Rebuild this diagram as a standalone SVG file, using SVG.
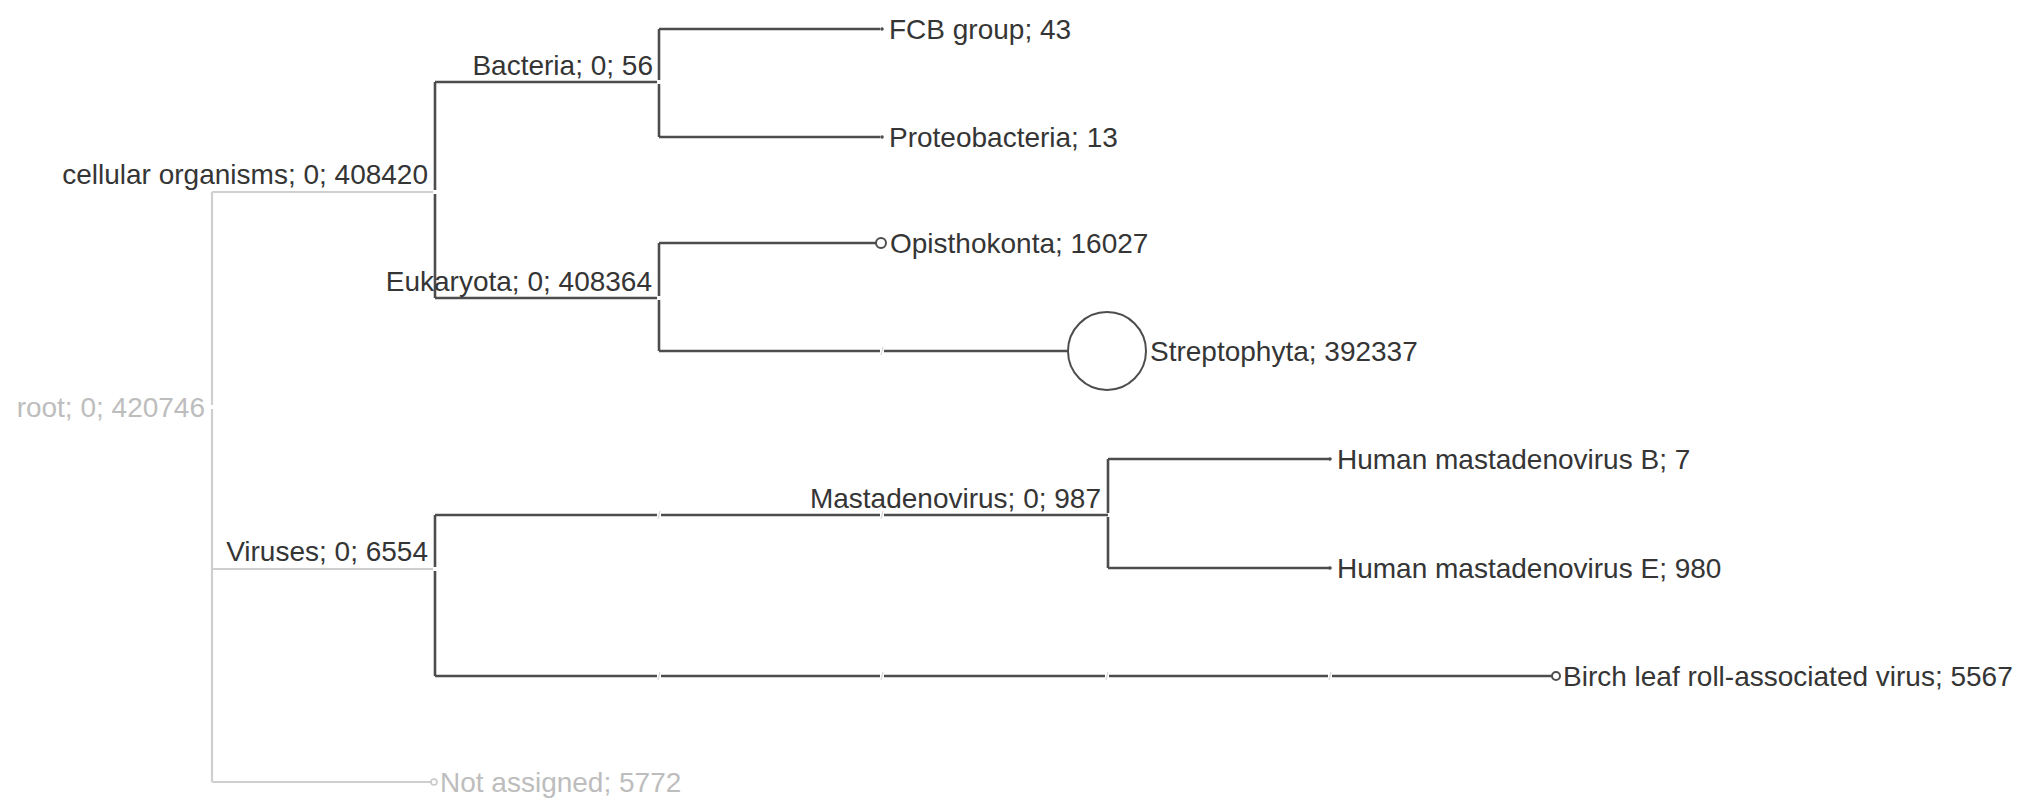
<svg xmlns="http://www.w3.org/2000/svg" width="2022" height="801" viewBox="0 0 2022 801">
<style>
  .bg{fill:#ffffff}
  .e{stroke:#4d4d4d;stroke-width:2.6;fill:none}
  .el{stroke:#cfcfcf;stroke-width:2.2;fill:none}
  .tk{stroke:#d8d8d8;stroke-width:1.2;fill:none}
  .t{font-family:"Liberation Sans",Arial,sans-serif;font-size:28px;fill:#353535}
  .tl{font-family:"Liberation Sans",Arial,sans-serif;font-size:28px;fill:#bdbdbd}
  .m{fill:#ffffff;stroke:#4d4d4d;stroke-width:2}
  .ml{fill:#ffffff;stroke:#c8c8c8;stroke-width:1.6}
  .d{fill:#4d4d4d}
</style>
<rect class="bg" x="0" y="0" width="2022" height="801"/>
<g id="connectors">
  <path class="el" d="M212,192 V405 M212,409 V782"/>
  <path class="el" d="M212,192 H433"/>
  <path class="el" d="M212,569 H433"/>
  <path class="el" d="M212,782 H431"/>
  <path class="e" d="M435,82 V190 M435,194 V298"/>
  <path class="e" d="M435,82 H657"/>
  <path class="e" d="M435,298 H657"/>
  <path class="e" d="M659,29 V80 M659,84 V137"/>
  <path class="e" d="M659,29 H880"/>
  <path class="e" d="M659,137 H880"/>
  <path class="e" d="M659,243 V296 M659,300 V351"/>
  <path class="e" d="M659,243 H876"/>
  <path class="e" d="M659,351 H880 M884,351 H1068"/>
  <path class="tk" d="M881,355 L883,347"/>
  <path class="e" d="M435,515 V567 M435,571 V676"/>
  <path class="e" d="M435,515 H657 M661,515 H880 M884,515 H1108"/>
  <path class="tk" d="M658,519 L660,511 M881,519 L883,511"/>
  <path class="e" d="M435,676 H657 M661,676 H880 M884,676 H1105 M1109,676 H1328 M1332,676 H1552"/>
  <path class="tk" d="M658,680 L660,672 M881,680 L883,672 M1106,680 L1108,672 M1329,680 L1331,672"/>
  <path class="e" d="M1108,459 V513 M1108,517 V568"/>
  <path class="e" d="M1108,459 H1330"/>
  <path class="e" d="M1108,568 H1330"/>
</g>
<g id="root">
  <text class="tl" x="205" y="417" text-anchor="end">root; 0; 420746</text>
</g>
<g id="cellular-organisms">
  <text class="t" x="428" y="184" text-anchor="end">cellular organisms; 0; 408420</text>
</g>
<g id="bacteria">
  <text class="t" x="653" y="75" text-anchor="end">Bacteria; 0; 56</text>
</g>
<g id="fcb-group">
  <circle class="d" cx="882" cy="29" r="1.8"/>
  <text class="t" x="889" y="39">FCB group; 43</text>
</g>
<g id="proteobacteria">
  <circle class="d" cx="882" cy="137" r="1.8"/>
  <text class="t" x="889" y="147">Proteobacteria; 13</text>
</g>
<g id="eukaryota">
  <text class="t" x="652" y="291" text-anchor="end">Eukaryota; 0; 408364</text>
</g>
<g id="opisthokonta">
  <circle class="m" cx="881" cy="243" r="5"/>
  <text class="t" x="890" y="253">Opisthokonta; 16027</text>
</g>
<g id="streptophyta">
  <circle class="m" cx="1107" cy="351" r="39"/>
  <text class="t" x="1150" y="361">Streptophyta; 392337</text>
</g>
<g id="viruses">
  <text class="t" x="428" y="561" text-anchor="end">Viruses; 0; 6554</text>
</g>
<g id="mastadenovirus">
  <text class="t" x="1101" y="508" text-anchor="end">Mastadenovirus; 0; 987</text>
</g>
<g id="human-mastadenovirus-b">
  <circle class="d" cx="1330" cy="459" r="1.8"/>
  <text class="t" x="1337" y="469">Human mastadenovirus B; 7</text>
</g>
<g id="human-mastadenovirus-e">
  <circle class="d" cx="1330" cy="568" r="1.8"/>
  <text class="t" x="1337" y="578">Human mastadenovirus E; 980</text>
</g>
<g id="birch-leaf-roll-associated-virus">
  <circle class="m" cx="1556" cy="676" r="4"/>
  <text class="t" x="1563" y="686">Birch leaf roll-associated virus; 5567</text>
</g>
<g id="not-assigned">
  <circle class="ml" cx="434" cy="782" r="3"/>
  <text class="tl" x="440" y="792">Not assigned; 5772</text>
</g>
</svg>
